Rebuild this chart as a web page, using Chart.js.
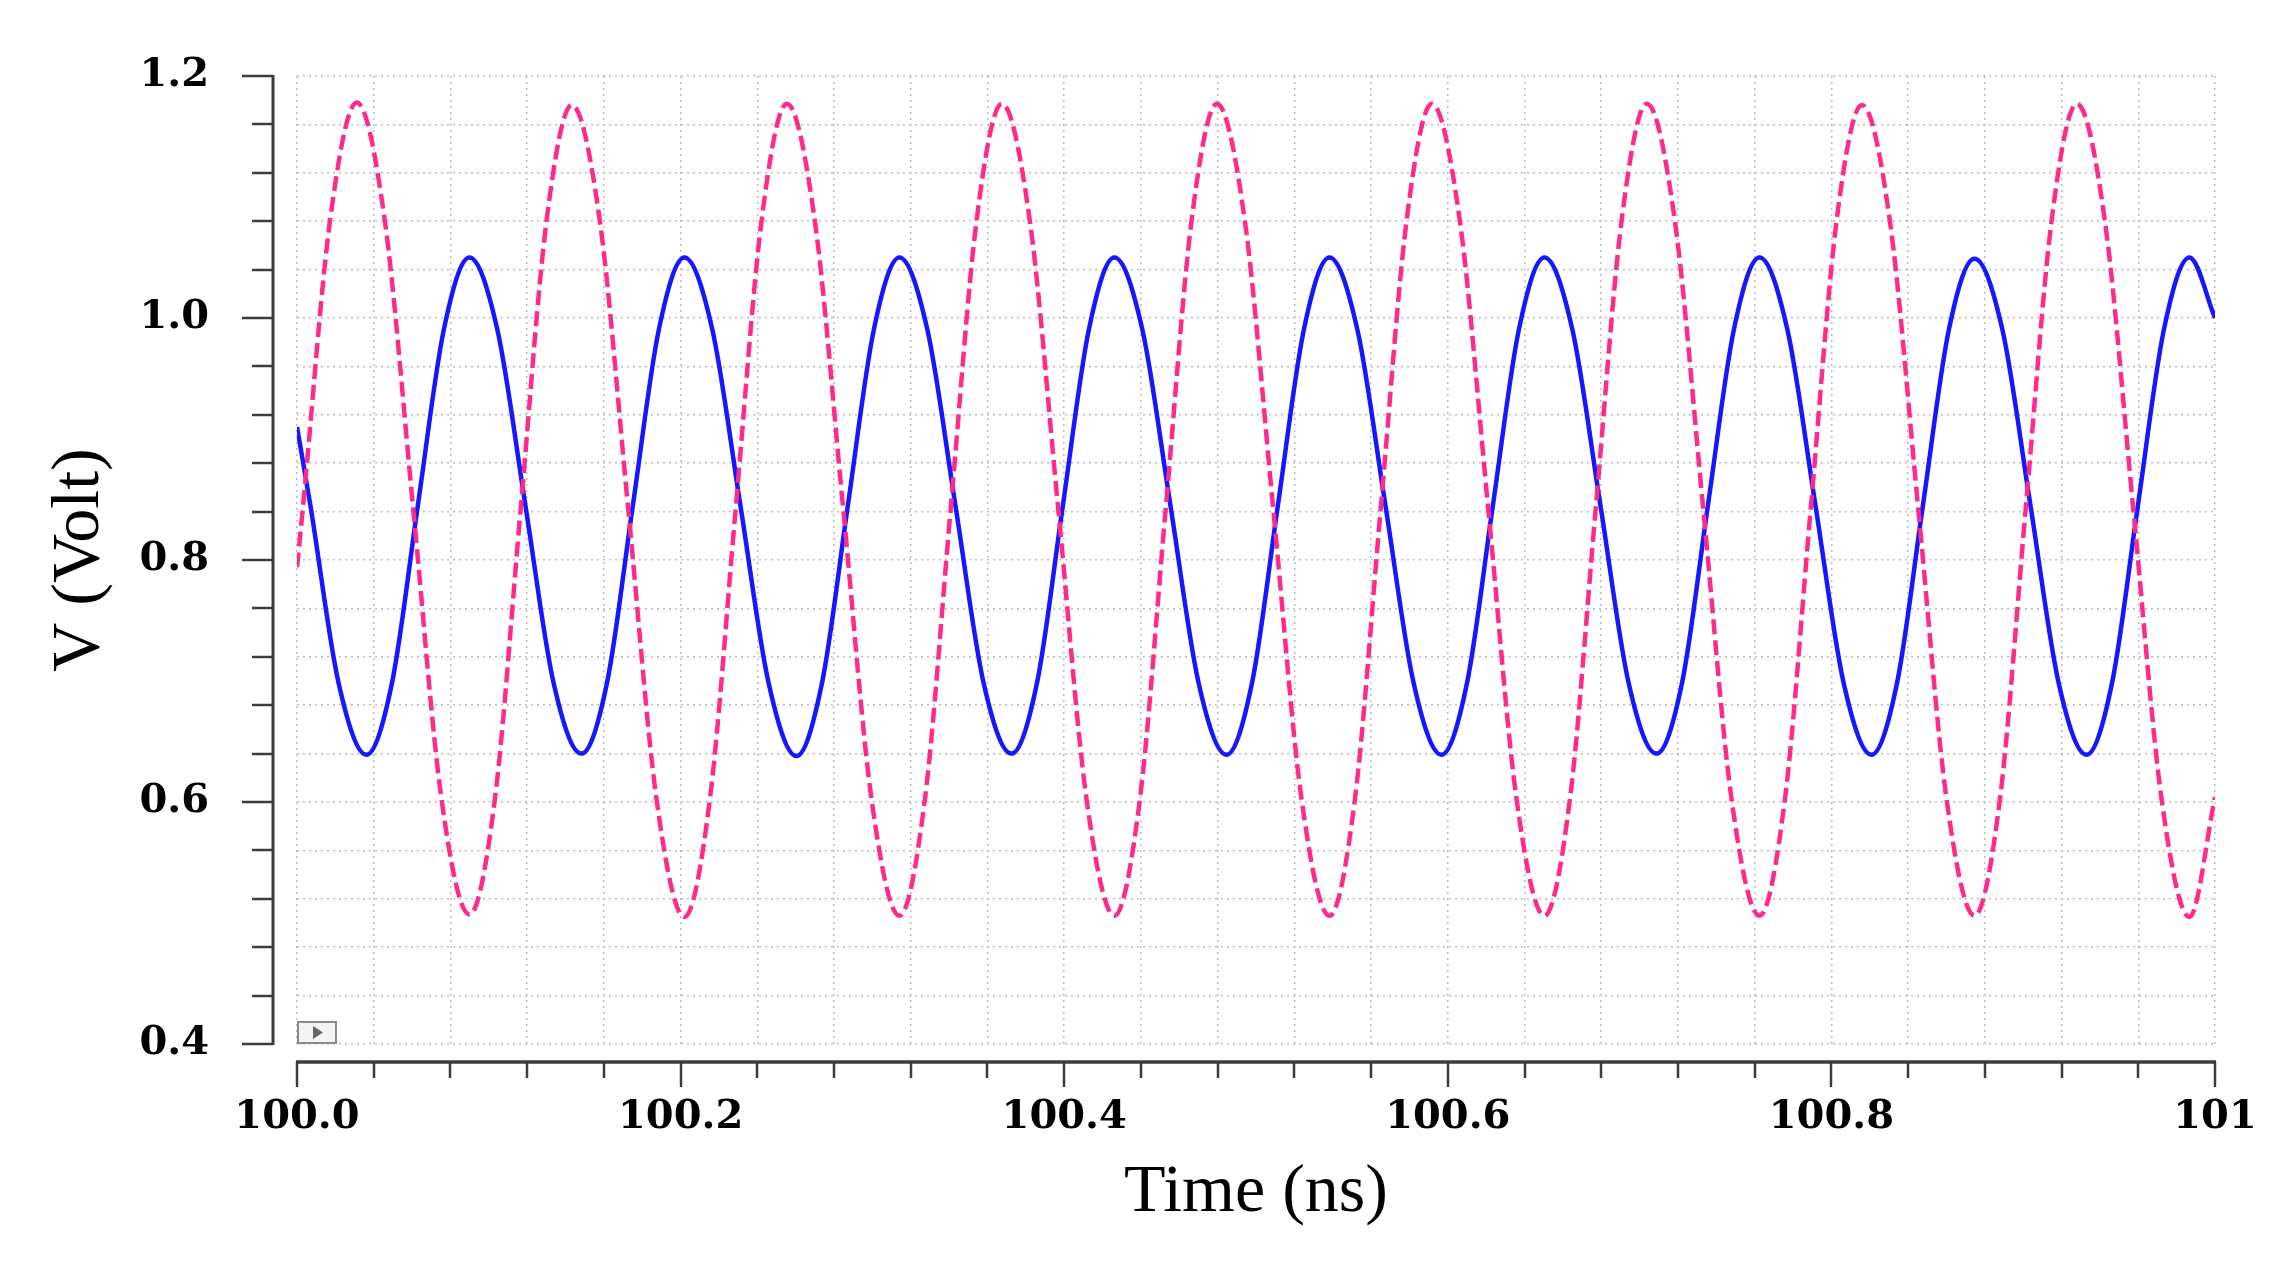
<!DOCTYPE html>
<html>
<head>
<meta charset="utf-8">
<title>V (Volt) vs Time (ns)</title>
<script src="https://cdn.jsdelivr.net/npm/chart.js@4.4.1/dist/chart.umd.min.js"></script>
<style>
  html, body { margin: 0; padding: 0; background: #fff; }
  #wrap { width: 2295px; height: 1271px; }
</style>
</head>
<body>
<div id="wrap"><canvas id="waveChart" width="2295" height="1271"></canvas></div>
<script>
// ----------------------------------------
// Data
// ----------------------------------------

// Solid blue trace: time (ns) and voltage (V)
var blueTime = [100.0000, 100.0070, 100.0216,
    100.0362, 100.0496, 100.0630, 100.0765, 100.0899, 100.1045, 100.1191, 100.1337,
    100.1483, 100.1617, 100.1751, 100.1886, 100.2020, 100.2166, 100.2312, 100.2458,
    100.2604, 100.2738, 100.2872, 100.3007, 100.3141, 100.3287, 100.3433, 100.3579,
    100.3725, 100.3859, 100.3993, 100.4128, 100.4262, 100.4408, 100.4554, 100.4700,
    100.4846, 100.4980, 100.5114, 100.5249, 100.5383, 100.5529, 100.5675, 100.5821,
    100.5967, 100.6101, 100.6235, 100.6370, 100.6504, 100.6650, 100.6796, 100.6942,
    100.7088, 100.7222, 100.7356, 100.7491, 100.7625, 100.7771, 100.7917, 100.8063,
    100.8209, 100.8343, 100.8477, 100.8612, 100.8746, 100.8892, 100.9038, 100.9184,
    100.9330, 100.9464, 100.9598, 100.9733, 100.9867, 101.0000];
var blueVolt = [0.910, 0.845, 0.699,
    0.639, 0.699, 0.845, 0.990, 1.050, 0.990, 0.845, 0.699,
    0.640, 0.699, 0.845, 0.990, 1.050, 0.990, 0.845, 0.699,
    0.638, 0.699, 0.845, 0.990, 1.050, 0.990, 0.845, 0.699,
    0.640, 0.699, 0.845, 0.990, 1.050, 0.990, 0.845, 0.699,
    0.639, 0.699, 0.845, 0.990, 1.050, 0.990, 0.845, 0.699,
    0.639, 0.699, 0.845, 0.990, 1.050, 0.990, 0.845, 0.699,
    0.640, 0.699, 0.845, 0.990, 1.050, 0.990, 0.845, 0.699,
    0.639, 0.699, 0.845, 0.990, 1.049, 0.990, 0.845, 0.699,
    0.639, 0.699, 0.845, 0.990, 1.050, 1.000];

// Dashed pink trace: time (ns) and voltage (V)
var pinkTime = [100.0000, 100.0030, 100.0171,
    100.0312, 100.0459, 100.0606, 100.0752, 100.0899, 100.1033, 100.1166, 100.1300,
    100.1433, 100.1580, 100.1727, 100.1873, 100.2020, 100.2154, 100.2287, 100.2421,
    100.2554, 100.2701, 100.2848, 100.2994, 100.3141, 100.3275, 100.3408, 100.3542,
    100.3675, 100.3822, 100.3969, 100.4115, 100.4262, 100.4396, 100.4529, 100.4663,
    100.4796, 100.4943, 100.5090, 100.5236, 100.5383, 100.5517, 100.5650, 100.5784,
    100.5917, 100.6064, 100.6211, 100.6357, 100.6504, 100.6638, 100.6771, 100.6905,
    100.7038, 100.7185, 100.7332, 100.7478, 100.7625, 100.7759, 100.7892, 100.8026,
    100.8159, 100.8306, 100.8453, 100.8599, 100.8746, 100.8880, 100.9013, 100.9147,
    100.9280, 100.9427, 100.9574, 100.9720, 100.9867, 101.0000];
var pinkVolt = [0.794, 0.842, 1.079,
    1.178, 1.079, 0.842, 0.604, 0.507, 0.604, 0.842, 1.079,
    1.176, 1.079, 0.842, 0.604, 0.505, 0.604, 0.842, 1.079,
    1.177, 1.079, 0.842, 0.604, 0.506, 0.604, 0.842, 1.079,
    1.177, 1.079, 0.842, 0.604, 0.506, 0.604, 0.842, 1.079,
    1.177, 1.079, 0.842, 0.604, 0.506, 0.604, 0.842, 1.079,
    1.177, 1.079, 0.842, 0.604, 0.506, 0.604, 0.842, 1.079,
    1.177, 1.079, 0.842, 0.604, 0.506, 0.604, 0.842, 1.079,
    1.176, 1.079, 0.842, 0.604, 0.506, 0.604, 0.842, 1.079,
    1.177, 1.079, 0.842, 0.604, 0.505, 0.604];

// Tick labels
var xTickLabels = ['100.0', '100.2', '100.4', '100.6', '100.8', '101'];
var yTickLabels = ['0.4', '0.6', '0.8', '1.0', '1.2'];

// ----------------------------------------
// Helpers
// ----------------------------------------

// Index of a major (labelled) tick, or -1 for a minor one
function majorIndex(value, origin) {
    var k = (value - origin) / 0.2;
    return Math.abs(k - Math.round(k)) < 1e-6 ? Math.round(k) : -1;
}

function toPoints(times, volts) {
    return times.map(function (t, i) {
        return { x: t, y: volts[i] };
    });
}

// Axis lines drawn a little away from the plot, like the simulator output
var offsetAxes = {
    id: 'offsetAxes',
    afterDraw: function (chart) {
        var ctx = chart.ctx;
        var area = chart.chartArea;
        var xs = chart.scales.x;
        var ys = chart.scales.y;
        ctx.save();
        ctx.strokeStyle = '#3c3c3c';
        ctx.lineCap = 'butt';

        // Y axis
        var ax = area.left - 24;
        ctx.lineWidth = 3;
        ctx.beginPath();
        ctx.moveTo(ax, area.top - 1);
        ctx.lineTo(ax, area.bottom + 1);
        ctx.stroke();
        ctx.lineWidth = 2.5;
        ys.ticks.forEach(function (t) {
            var py = Math.round(ys.getPixelForValue(t.value));
            var len = majorIndex(t.value, 0.4) >= 0 ? 31 : 21;
            ctx.beginPath();
            ctx.moveTo(ax - len, py);
            ctx.lineTo(ax, py);
            ctx.stroke();
        });

        // X axis
        var ay = area.bottom + 18;
        ctx.lineWidth = 3.5;
        ctx.beginPath();
        ctx.moveTo(area.left - 1, ay);
        ctx.lineTo(area.right + 1, ay);
        ctx.stroke();
        ctx.lineWidth = 2.5;
        xs.ticks.forEach(function (t) {
            var px = Math.round(xs.getPixelForValue(t.value));
            var len = majorIndex(t.value, 100) >= 0 ? 25 : 16;
            ctx.beginPath();
            ctx.moveTo(px, ay);
            ctx.lineTo(px, ay + len);
            ctx.stroke();
        });

        // Small play marker in the lower left corner of the plot
        var bx = xs.getPixelForValue(100);
        var by = ys.getPixelForValue(0.4);
        ctx.fillStyle = '#f4f4f4';
        ctx.strokeStyle = '#8a8a8a';
        ctx.lineWidth = 2;
        ctx.fillRect(bx + 1, by - 22, 38, 21);
        ctx.strokeRect(bx + 1, by - 22, 38, 21);
        ctx.fillStyle = '#666';
        ctx.beginPath();
        ctx.moveTo(bx + 16, by - 18);
        ctx.lineTo(bx + 16, by - 5);
        ctx.lineTo(bx + 26, by - 11.5);
        ctx.closePath();
        ctx.fill();
        ctx.restore();
    }
};

// ----------------------------------------
// Chart
// ----------------------------------------
var tickFont = { family: "'DejaVu Serif', serif", size: 40, weight: 'bold' };
var titleFont = { family: "'Liberation Serif', 'Times New Roman', serif", size: 68, weight: 'normal' };
var gridStyle = {
    color: '#bdbdbd',
    lineWidth: 1.5,
    drawTicks: false
};
// in v4 the grid line dash pattern lives under "border"
var borderStyle = { display: false, dash: [2, 4] };

var ctx = document.getElementById('waveChart').getContext('2d');
var chart = new Chart(ctx, {
    type: 'line',
    data: {
        datasets: [{
            label: 'pink',
            data: toPoints(pinkTime, pinkVolt),
            borderColor: '#ff2a8c',
            borderWidth: 4.5,
            borderDash: [15, 6],
            pointRadius: 0,
            cubicInterpolationMode: 'monotone',
            fill: false
        }, {
            label: 'blue',
            data: toPoints(blueTime, blueVolt),
            borderColor: '#1616ff',
            borderWidth: 4.5,
            pointRadius: 0,
            cubicInterpolationMode: 'monotone',
            fill: false
        }]
    },
    options: {
        responsive: false,
        devicePixelRatio: 1,
        animation: false,
        layout: { padding: { top: 76, right: 80, left: 0, bottom: 0 } },
        plugins: {
            legend: { display: false },
            tooltip: { enabled: false }
        },
        scales: {
            x: {
                type: 'linear',
                min: 100,
                max: 101,
                border: borderStyle,
                grid: gridStyle,
                ticks: {
                    stepSize: 0.04,
                    autoSkip: false,
                    maxRotation: 0,
                    padding: 50,
                    color: '#000',
                    font: tickFont,
                    callback: function (value) {
                        var k = majorIndex(value, 100);
                        return k >= 0 ? xTickLabels[k] : '';
                    }
                },
                title: {
                    display: true,
                    text: 'Time (ns)',
                    color: '#000',
                    font: titleFont,
                    padding: { top: 0, bottom: 37 }
                },
                afterFit: function (scale) {
                    scale.height = 227;
                    // tick padding is added to the edge padding, keep it out of the layout
                    scale.paddingLeft = 0;
                    scale.paddingRight = 40;
                }
            },
            y: {
                min: 0.4,
                max: 1.2,
                border: borderStyle,
                grid: gridStyle,
                ticks: {
                    stepSize: 0.04,
                    autoSkip: false,
                    padding: 88,
                    color: '#000',
                    font: tickFont,
                    callback: function (value) {
                        var k = majorIndex(value, 0.4);
                        return k >= 0 ? yTickLabels[k] : '';
                    }
                },
                title: {
                    display: true,
                    text: 'V (Volt)',
                    color: '#000',
                    font: titleFont,
                    padding: { top: 39, bottom: 0 }
                },
                afterFit: function (scale) {
                    scale.width = 297;
                    scale.paddingTop = 24;
                    scale.paddingBottom = 24;
                }
            }
        }
    },
    plugins: [offsetAxes]
});
</script>
</body>
</html>
